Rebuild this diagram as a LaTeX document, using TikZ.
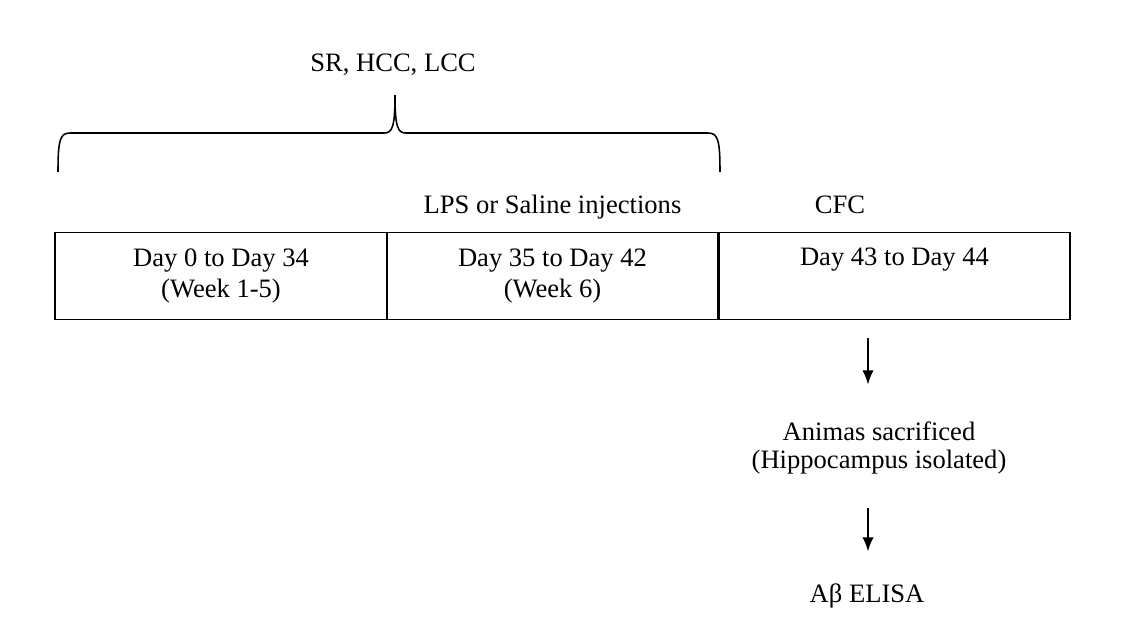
\documentclass[tikz,border=0pt]{standalone}
\usepackage{fontspec}
\setmainfont{Liberation Serif}
\usetikzlibrary{arrows.meta, positioning, calc}
\tikzset{
  >=latex,
  every node/.style={font=\fontsize{18.9}{22}\selectfont},
  % caselle della linea temporale
  period box/.style={draw,line width=1.3pt,minimum height=2.175cm,align=center,inner sep=0pt,outer sep=0pt},
  % testi liberi
  label text/.style={inner sep=0pt,align=center},
  brace line/.style={line width=1.1pt}
}
\begin{document}
\begin{tikzpicture}[x=0.025cm,y=-0.025cm,
      arr/.style={-{Latex[length=10pt,width=8pt]},line width=1.1pt}]
      \useasboundingbox (0,0) rectangle (1130,625);
      \node[period box,minimum width=8.3cm] (W1) at (221,276) {Day 0 to Day 34\\(Week 1-5)};
      \node[period box,minimum width=8.275cm] (W6) at (552.5,276) {Day 35 to Day 42\\(Week 6)};
      \node[period box,minimum width=8.775cm] (W7) at (894.5,276) {Day 43 to Day 44\\[5pt]\mbox{}};
      \node[label text,anchor=base] (groups) at (393,71) {SR, HCC, LCC};
      \node[label text,anchor=base] (lps) at (552.5,213) {LPS or Saline injections};
      \node[label text,anchor=base] (cfc) at (840,213) {CFC};
      \node[label text,font=\fontsize{18.9}{20}\selectfont] (sac) at (879,448) {Animas sacrificed\\(Hippocampus isolated)};
      \node[label text,anchor=base] (elisa) at (867,602) {Aβ ELISA};
      \coordinate (braceL) at (58,172);
      \coordinate (braceR) at (720,172);
      \coordinate (braceTip) at (395,95);
      \coordinate (col) at (868,0);
      \draw[brace line] (braceL) .. controls (58,140) and (60,133) .. (70,133) -- (384,133)
        .. controls (392,133) and (395,128) .. (braceTip)
        .. controls (395,128) and (398,133) .. (406,133) -- (708,133)
        .. controls (718,133) and (720,140) .. (braceR);
      \draw[arr,shorten <=13.2pt,shorten >=26.3pt] (W7.south -| col) -- (sac.north -| col);
      \draw[arr,shorten <=23.5pt,shorten >=22.5pt] (sac.south -| col) -- (elisa.north -| col);
    \end{tikzpicture}
\end{document}
